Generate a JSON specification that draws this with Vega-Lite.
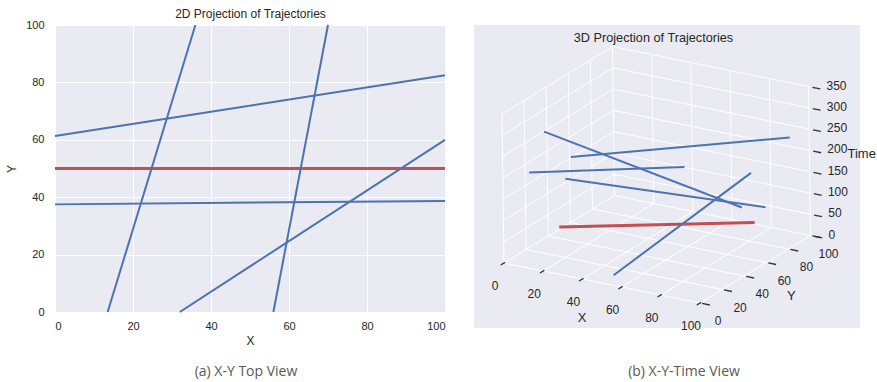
{
  "$schema": "https://vega.github.io/schema/vega-lite/v6.json",
  "background": "white",
  "padding": {"left": 5, "top": 7, "right": 5, "bottom": 0},
  "config": {
    "font": "Liberation Sans",
    "view": {"stroke": null},
    "axis": {
      "labelFont": "Liberation Sans", "labelFontSize": 11, "labelColor": "#262626",
      "titleFont": "Liberation Sans", "titleFontWeight": "normal", "titleFontSize": 12, "titleColor": "#262626",
      "domain": false, "ticks": false, "gridColor": "#ffffff", "gridWidth": 1, "gridOpacity": 1
    },
    "text": {"font": "Liberation Sans", "color": "#262626"}
  },
  "datasets": {
    "traj": [
      {"id": "R", "ego": 1, "x1": 0, "y1": 50, "t1": 5, "x2": 100, "y2": 50, "t2": 110},
      {"id": "A", "ego": 0, "x1": 0, "y1": 37.5, "t1": 249, "x2": 100, "y2": 38.7, "t2": 163},
      {"id": "B", "ego": 0, "x1": 0, "y1": 61.3, "t1": 152, "x2": 100, "y2": 82.5, "t2": 258},
      {"id": "C", "ego": 0, "x1": 13.5, "y1": 0, "t1": 225, "x2": 36, "y2": 100, "t2": 101},
      {"id": "D", "ego": 0, "x1": 32, "y1": 0, "t1": 228, "x2": 100, "y2": 60, "t2": 130},
      {"id": "E", "ego": 0, "x1": 56, "y1": 0, "t1": 24, "x2": 70, "y2": 100, "t2": 119}
    ],
    "grid3d": [
      {"x1": 0, "y1": 0, "t1": 0, "x2": 0, "y2": 100, "t2": 0},
      {"x1": 20, "y1": 0, "t1": 0, "x2": 20, "y2": 100, "t2": 0},
      {"x1": 40, "y1": 0, "t1": 0, "x2": 40, "y2": 100, "t2": 0},
      {"x1": 60, "y1": 0, "t1": 0, "x2": 60, "y2": 100, "t2": 0},
      {"x1": 80, "y1": 0, "t1": 0, "x2": 80, "y2": 100, "t2": 0},
      {"x1": 100, "y1": 0, "t1": 0, "x2": 100, "y2": 100, "t2": 0},
      {"x1": 0, "y1": 0, "t1": 0, "x2": 100, "y2": 0, "t2": 0},
      {"x1": 0, "y1": 20, "t1": 0, "x2": 100, "y2": 20, "t2": 0},
      {"x1": 0, "y1": 40, "t1": 0, "x2": 100, "y2": 40, "t2": 0},
      {"x1": 0, "y1": 60, "t1": 0, "x2": 100, "y2": 60, "t2": 0},
      {"x1": 0, "y1": 80, "t1": 0, "x2": 100, "y2": 80, "t2": 0},
      {"x1": 0, "y1": 100, "t1": 0, "x2": 100, "y2": 100, "t2": 0},
      {"x1": 0, "y1": 100, "t1": 0, "x2": 0, "y2": 100, "t2": 350},
      {"x1": 20, "y1": 100, "t1": 0, "x2": 20, "y2": 100, "t2": 350},
      {"x1": 40, "y1": 100, "t1": 0, "x2": 40, "y2": 100, "t2": 350},
      {"x1": 60, "y1": 100, "t1": 0, "x2": 60, "y2": 100, "t2": 350},
      {"x1": 80, "y1": 100, "t1": 0, "x2": 80, "y2": 100, "t2": 350},
      {"x1": 100, "y1": 100, "t1": 0, "x2": 100, "y2": 100, "t2": 350},
      {"x1": 0, "y1": 100, "t1": 50, "x2": 100, "y2": 100, "t2": 50},
      {"x1": 0, "y1": 100, "t1": 100, "x2": 100, "y2": 100, "t2": 100},
      {"x1": 0, "y1": 100, "t1": 150, "x2": 100, "y2": 100, "t2": 150},
      {"x1": 0, "y1": 100, "t1": 200, "x2": 100, "y2": 100, "t2": 200},
      {"x1": 0, "y1": 100, "t1": 250, "x2": 100, "y2": 100, "t2": 250},
      {"x1": 0, "y1": 100, "t1": 300, "x2": 100, "y2": 100, "t2": 300},
      {"x1": 0, "y1": 100, "t1": 350, "x2": 100, "y2": 100, "t2": 350},
      {"x1": 0, "y1": 0, "t1": 0, "x2": 0, "y2": 0, "t2": 350},
      {"x1": 0, "y1": 20, "t1": 0, "x2": 0, "y2": 20, "t2": 350},
      {"x1": 0, "y1": 40, "t1": 0, "x2": 0, "y2": 40, "t2": 350},
      {"x1": 0, "y1": 60, "t1": 0, "x2": 0, "y2": 60, "t2": 350},
      {"x1": 0, "y1": 80, "t1": 0, "x2": 0, "y2": 80, "t2": 350},
      {"x1": 0, "y1": 0, "t1": 50, "x2": 0, "y2": 100, "t2": 50},
      {"x1": 0, "y1": 0, "t1": 100, "x2": 0, "y2": 100, "t2": 100},
      {"x1": 0, "y1": 0, "t1": 150, "x2": 0, "y2": 100, "t2": 150},
      {"x1": 0, "y1": 0, "t1": 200, "x2": 0, "y2": 100, "t2": 200},
      {"x1": 0, "y1": 0, "t1": 250, "x2": 0, "y2": 100, "t2": 250},
      {"x1": 0, "y1": 0, "t1": 300, "x2": 0, "y2": 100, "t2": 300},
      {"x1": 0, "y1": 0, "t1": 350, "x2": 0, "y2": 100, "t2": 350}
    ],
    "ticks3d": [
      {"x1": 0, "y1": 1, "t1": 0, "x2": 0, "y2": -3, "t2": 0},
      {"x1": 20, "y1": 1, "t1": 0, "x2": 20, "y2": -3, "t2": 0},
      {"x1": 40, "y1": 1, "t1": 0, "x2": 40, "y2": -3, "t2": 0},
      {"x1": 60, "y1": 1, "t1": 0, "x2": 60, "y2": -3, "t2": 0},
      {"x1": 80, "y1": 1, "t1": 0, "x2": 80, "y2": -3, "t2": 0},
      {"x1": 100, "y1": 1, "t1": 0, "x2": 100, "y2": -3, "t2": 0},
      {"x1": 101, "y1": 0, "t1": 0, "x2": 105, "y2": 0, "t2": 0},
      {"x1": 101, "y1": 20, "t1": 0, "x2": 105, "y2": 20, "t2": 0},
      {"x1": 101, "y1": 40, "t1": 0, "x2": 105, "y2": 40, "t2": 0},
      {"x1": 101, "y1": 60, "t1": 0, "x2": 105, "y2": 60, "t2": 0},
      {"x1": 101, "y1": 80, "t1": 0, "x2": 105, "y2": 80, "t2": 0},
      {"x1": 101, "y1": 100, "t1": 0, "x2": 105, "y2": 100, "t2": 0},
      {"x1": 102, "y1": 100, "t1": 0, "x2": 106, "y2": 100, "t2": 0},
      {"x1": 102, "y1": 100, "t1": 50, "x2": 106, "y2": 100, "t2": 50},
      {"x1": 102, "y1": 100, "t1": 100, "x2": 106, "y2": 100, "t2": 100},
      {"x1": 102, "y1": 100, "t1": 150, "x2": 106, "y2": 100, "t2": 150},
      {"x1": 102, "y1": 100, "t1": 200, "x2": 106, "y2": 100, "t2": 200},
      {"x1": 102, "y1": 100, "t1": 250, "x2": 106, "y2": 100, "t2": 250},
      {"x1": 102, "y1": 100, "t1": 300, "x2": 106, "y2": 100, "t2": 300},
      {"x1": 102, "y1": 100, "t1": 350, "x2": 106, "y2": 100, "t2": 350}
    ],
    "labels3d": [
      {"axis": "x", "label": "0", "x1": 0, "y1": 0, "t1": 0},
      {"axis": "x", "label": "20", "x1": 20, "y1": 0, "t1": 0},
      {"axis": "x", "label": "40", "x1": 40, "y1": 0, "t1": 0},
      {"axis": "x", "label": "60", "x1": 60, "y1": 0, "t1": 0},
      {"axis": "x", "label": "80", "x1": 80, "y1": 0, "t1": 0},
      {"axis": "x", "label": "100", "x1": 100, "y1": 0, "t1": 0},
      {"axis": "y", "label": "0", "x1": 100, "y1": 0, "t1": 0},
      {"axis": "y", "label": "20", "x1": 100, "y1": 20, "t1": 0},
      {"axis": "y", "label": "40", "x1": 100, "y1": 40, "t1": 0},
      {"axis": "y", "label": "60", "x1": 100, "y1": 60, "t1": 0},
      {"axis": "y", "label": "80", "x1": 100, "y1": 80, "t1": 0},
      {"axis": "y", "label": "100", "x1": 100, "y1": 100, "t1": 0},
      {"axis": "z", "label": "0", "x1": 100, "y1": 100, "t1": 0},
      {"axis": "z", "label": "50", "x1": 100, "y1": 100, "t1": 50},
      {"axis": "z", "label": "100", "x1": 100, "y1": 100, "t1": 100},
      {"axis": "z", "label": "150", "x1": 100, "y1": 100, "t1": 150},
      {"axis": "z", "label": "200", "x1": 100, "y1": 100, "t1": 200},
      {"axis": "z", "label": "250", "x1": 100, "y1": 100, "t1": 250},
      {"axis": "z", "label": "300", "x1": 100, "y1": 100, "t1": 300},
      {"axis": "z", "label": "350", "x1": 100, "y1": 100, "t1": 350},
      {"axis": "xt", "label": "X", "x1": 50, "y1": 0, "t1": 0},
      {"axis": "yt", "label": "Y", "x1": 100, "y1": 50, "t1": 0},
      {"axis": "zt", "label": "Time", "x1": 100, "y1": 100, "t1": 175}
    ]
  },
  "bounds": "flush",
  "spacing": 29,
  "hconcat": [
    {
      "width": 390,
      "height": 287,
      "view": {"fill": "#EAEAF2", "stroke": null},
      "title": {"text": "(a) X-Y Top View", "orient": "bottom", "frame": "group", "font": "Open Sans", "fontSize": 14, "fontWeight": "normal", "color": "#595959", "offset": 19, "dx": -4},
      "data": {"name": "traj"},
      "resolve": {"axis": {"x": "independent", "y": "independent"}},
      "layer": [
        {
          "transform": [{"filter": "datum.ego == 1"}],
          "mark": {"type": "rule", "color": "#C44E52", "strokeWidth": 3},
          "encoding": {
            "x": {"field": "x1", "type": "quantitative", "scale": {"domain": [0, 100], "nice": false},
                  "axis": {"orient": "top", "title": "2D Projection of Trajectories", "labels": false, "ticks": false, "domain": false, "grid": false, "titlePadding": 5, "titleFontSize": 12}},
            "y": {"field": "y1", "type": "quantitative", "scale": {"domain": [0, 100], "nice": false}, "axis": null},
            "x2": {"field": "x2"},
            "y2": {"field": "y2"}
          }
        },
        {
          "transform": [{"filter": "datum.ego == 0"}],
          "mark": {"type": "rule", "color": "#4C72B0", "strokeWidth": 2},
          "encoding": {
            "x": {"field": "x1", "type": "quantitative", "scale": {"domain": [0, 100], "nice": false},
                  "axis": {"title": "X", "values": [0, 20, 40, 60, 80, 100], "grid": true, "labelPadding": 8, "titlePadding": 4}},
            "y": {"field": "y1", "type": "quantitative", "scale": {"domain": [0, 100], "nice": false},
                  "axis": {"title": "Y", "values": [0, 20, 40, 60, 80, 100], "grid": true, "labelPadding": 11, "titlePadding": 7}},
            "x2": {"field": "x2"},
            "y2": {"field": "y2"}
          }
        }
      ]
    },
    {
      "width": 386,
      "height": 303,
      "view": {"fill": "#EAEAF2", "stroke": null},
      "title": {"text": "(b) X-Y-Time View", "orient": "bottom", "frame": "group", "font": "Open Sans", "fontSize": 14, "fontWeight": "normal", "color": "#595959", "offset": 33, "dx": 17},
      "encoding": {
        "x": {"field": "u1", "type": "quantitative", "scale": {"domain": [-30, 356], "nice": false, "zero": false},
              "axis": {"orient": "top", "title": "3D Projection of Trajectories", "labels": false, "ticks": false, "domain": false, "grid": false, "titleX": 179, "titleY": 12, "titleBaseline": "middle", "titleFontSize": 12.7}},
        "y": {"field": "v1", "type": "quantitative", "scale": {"domain": [-65, 238], "nice": false, "zero": false}, "axis": null}
      },
      "layer": [
        {
          "data": {"name": "grid3d"},
          "transform": [
            {"calculate": "1.96*datum.x1 + 1.105*datum.y1 - 0.0057*datum.t1", "as": "u1"},
            {"calculate": "-0.40*datum.x1 + 0.675*datum.y1 + 0.4257*datum.t1", "as": "v1"},
            {"calculate": "1.96*datum.x2 + 1.105*datum.y2 - 0.0057*datum.t2", "as": "u2"},
            {"calculate": "-0.40*datum.x2 + 0.675*datum.y2 + 0.4257*datum.t2", "as": "v2"}
          ],
          "mark": {"type": "rule", "color": "#ffffff", "strokeWidth": 1},
          "encoding": {"x2": {"field": "u2"}, "y2": {"field": "v2"}}
        },
        {
          "data": {"name": "ticks3d"},
          "transform": [
            {"calculate": "1.96*datum.x1 + 1.105*datum.y1 - 0.0057*datum.t1", "as": "u1"},
            {"calculate": "-0.40*datum.x1 + 0.675*datum.y1 + 0.4257*datum.t1", "as": "v1"},
            {"calculate": "1.96*datum.x2 + 1.105*datum.y2 - 0.0057*datum.t2", "as": "u2"},
            {"calculate": "-0.40*datum.x2 + 0.675*datum.y2 + 0.4257*datum.t2", "as": "v2"}
          ],
          "mark": {"type": "rule", "color": "#333333", "strokeWidth": 1.3},
          "encoding": {"x2": {"field": "u2"}, "y2": {"field": "v2"}}
        },
        {
          "data": {"name": "traj"},
          "transform": [
            {"filter": "datum.ego == 1"},
            {"calculate": "1.96*datum.x1 + 1.105*datum.y1 - 0.0057*datum.t1", "as": "u1"},
            {"calculate": "-0.40*datum.x1 + 0.675*datum.y1 + 0.4257*datum.t1", "as": "v1"},
            {"calculate": "1.96*datum.x2 + 1.105*datum.y2 - 0.0057*datum.t2", "as": "u2"},
            {"calculate": "-0.40*datum.x2 + 0.675*datum.y2 + 0.4257*datum.t2", "as": "v2"}
          ],
          "mark": {"type": "rule", "color": "#C44E52", "strokeWidth": 3},
          "encoding": {"x2": {"field": "u2"}, "y2": {"field": "v2"}}
        },
        {
          "data": {"name": "traj"},
          "transform": [
            {"filter": "datum.ego == 0"},
            {"calculate": "1.96*datum.x1 + 1.105*datum.y1 - 0.0057*datum.t1", "as": "u1"},
            {"calculate": "-0.40*datum.x1 + 0.675*datum.y1 + 0.4257*datum.t1", "as": "v1"},
            {"calculate": "1.96*datum.x2 + 1.105*datum.y2 - 0.0057*datum.t2", "as": "u2"},
            {"calculate": "-0.40*datum.x2 + 0.675*datum.y2 + 0.4257*datum.t2", "as": "v2"}
          ],
          "mark": {"type": "rule", "color": "#4C72B0", "strokeWidth": 2},
          "encoding": {"x2": {"field": "u2"}, "y2": {"field": "v2"}}
        },
        {
          "data": {"name": "labels3d"},
          "transform": [
            {"filter": "datum.axis == 'x'"},
            {"calculate": "1.96*datum.x1 + 1.105*datum.y1 - 0.0057*datum.t1", "as": "u1"},
            {"calculate": "-0.40*datum.x1 + 0.675*datum.y1 + 0.4257*datum.t1", "as": "v1"}
          ],
          "mark": {"type": "text", "fontSize": 12, "align": "center", "baseline": "middle", "dx": -9, "dy": 23},
          "encoding": {"text": {"field": "label"}}
        },
        {
          "data": {"name": "labels3d"},
          "transform": [
            {"filter": "datum.axis == 'y'"},
            {"calculate": "1.96*datum.x1 + 1.105*datum.y1 - 0.0057*datum.t1", "as": "u1"},
            {"calculate": "-0.40*datum.x1 + 0.675*datum.y1 + 0.4257*datum.t1", "as": "v1"}
          ],
          "mark": {"type": "text", "fontSize": 12, "align": "center", "baseline": "middle", "dx": 18, "dy": 18},
          "encoding": {"text": {"field": "label"}}
        },
        {
          "data": {"name": "labels3d"},
          "transform": [
            {"filter": "datum.axis == 'z'"},
            {"calculate": "1.96*datum.x1 + 1.105*datum.y1 - 0.0057*datum.t1", "as": "u1"},
            {"calculate": "-0.40*datum.x1 + 0.675*datum.y1 + 0.4257*datum.t1", "as": "v1"}
          ],
          "mark": {"type": "text", "fontSize": 12, "align": "left", "baseline": "middle", "dx": 18, "dy": -1},
          "encoding": {"text": {"field": "label"}}
        },
        {
          "data": {"name": "labels3d"},
          "transform": [
            {"filter": "datum.axis == 'xt'"},
            {"calculate": "1.96*datum.x1 + 1.105*datum.y1 - 0.0057*datum.t1", "as": "u1"},
            {"calculate": "-0.40*datum.x1 + 0.675*datum.y1 + 0.4257*datum.t1", "as": "v1"}
          ],
          "mark": {"type": "text", "fontSize": 13, "align": "center", "baseline": "middle", "dx": -20, "dy": 35},
          "encoding": {"text": {"field": "label"}}
        },
        {
          "data": {"name": "labels3d"},
          "transform": [
            {"filter": "datum.axis == 'yt'"},
            {"calculate": "1.96*datum.x1 + 1.105*datum.y1 - 0.0057*datum.t1", "as": "u1"},
            {"calculate": "-0.40*datum.x1 + 0.675*datum.y1 + 0.4257*datum.t1", "as": "v1"}
          ],
          "mark": {"type": "text", "fontSize": 13, "align": "center", "baseline": "middle", "dx": 36, "dy": 27},
          "encoding": {"text": {"field": "label"}}
        },
        {
          "data": {"name": "labels3d"},
          "transform": [
            {"filter": "datum.axis == 'zt'"},
            {"calculate": "1.96*datum.x1 + 1.105*datum.y1 - 0.0057*datum.t1", "as": "u1"},
            {"calculate": "-0.40*datum.x1 + 0.675*datum.y1 + 0.4257*datum.t1", "as": "v1"}
          ],
          "mark": {"type": "text", "fontSize": 13, "align": "left", "baseline": "middle", "dx": 38, "dy": -7},
          "encoding": {"text": {"field": "label"}}
        }
      ]
    }
  ]
}
